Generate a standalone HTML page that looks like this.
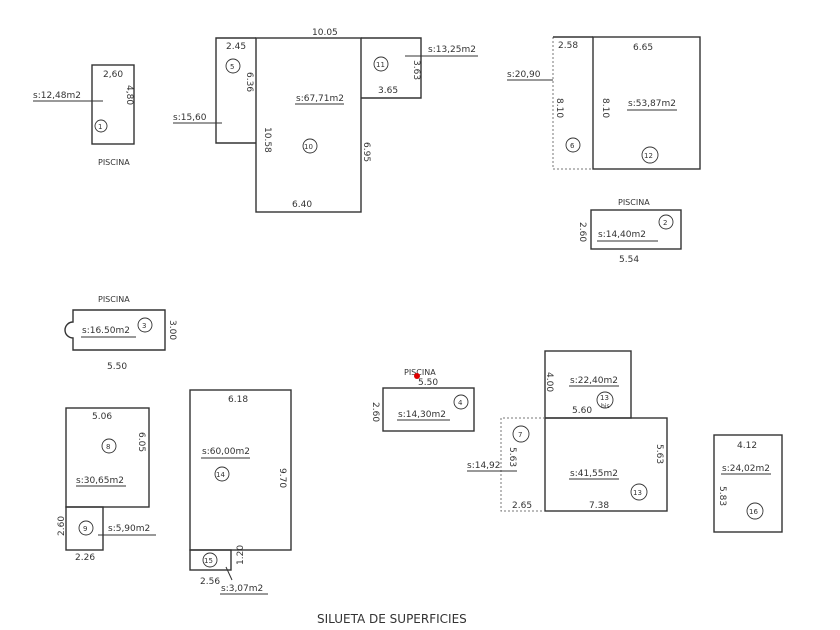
<!DOCTYPE html>
<html><head><meta charset="utf-8"><style>
html,body{margin:0;padding:0;background:#fff;}
svg{display:block;}
text{font-family:"DejaVu Sans","Liberation Sans",sans-serif;font-size:9px;fill:#333;}
.r{fill:none;stroke:#333;stroke-width:1.4;}
.d{fill:none;stroke:#777;stroke-width:1;stroke-dasharray:2 2;}
.l{stroke:#333;stroke-width:1;}
.c{fill:none;stroke:#333;stroke-width:0.9;}
</style></head><body>
<svg width="840" height="630" viewBox="0 0 840 630" xmlns="http://www.w3.org/2000/svg">
<!-- 1 -->
<rect class="r" x="92" y="65" width="42" height="79"/>
<text x="103" y="77">2,60</text>
<text transform="translate(127,85) rotate(90)">4,80</text>
<text x="33" y="98">s:12,48m2</text><line class="l" x1="33" y1="101" x2="103" y2="101"/>
<circle class="c" cx="101" cy="126" r="6"/><text x="98" y="129" style="font-size:7px">1</text>
<text x="98" y="165" style="font-size:8px">PISCINA</text>
<!-- 5 10 11 -->
<path class="r" d="M256,38 H216 V143 H256"/>
<rect class="r" x="256" y="38" width="105" height="174"/>
<path class="r" d="M361,38 H421 V98 H361"/>
<text x="312" y="35">10.05</text>
<text x="226" y="49">2.45</text>
<circle class="c" cx="233" cy="66" r="7"/><text x="230" y="69" style="font-size:7px">5</text>
<text transform="translate(247,72) rotate(90)">6.36</text>
<text x="173" y="120">s:15,60</text><line class="l" x1="173" y1="123" x2="222" y2="123"/>
<text x="296" y="101">s:67,71m2</text><line class="l" x1="295" y1="104" x2="344" y2="104"/>
<text transform="translate(265,127) rotate(90)">10.58</text>
<circle class="c" cx="310" cy="146" r="7"/><text x="304" y="149" style="font-size:7px">10</text>
<text transform="translate(364,142) rotate(90)">6.95</text>
<text x="292" y="207">6.40</text>
<circle class="c" cx="381" cy="64" r="7"/><text x="376" y="67" style="font-size:7px">11</text>
<text transform="translate(414,60) rotate(90)">3.63</text>
<text x="378" y="93">3.65</text>
<text x="428" y="52">s:13,25m2</text><line class="l" x1="405" y1="56" x2="478" y2="56"/>
<!-- 6 12 -->
<path class="d" d="M553,37 V169 H593"/>
<line class="r" x1="553" y1="37" x2="593" y2="37"/>
<rect class="r" x="593" y="37" width="107" height="132"/>
<text x="558" y="48">2.58</text>
<text x="633" y="50">6.65</text>
<text x="507" y="77">s:20,90</text><line class="l" x1="507" y1="80" x2="553" y2="80"/>
<text transform="translate(557,98) rotate(90)">8.10</text>
<text transform="translate(603,98) rotate(90)">8.10</text>
<text x="628" y="106">s:53,87m2</text><line class="l" x1="627" y1="110" x2="677" y2="110"/>
<circle class="c" cx="573" cy="145" r="7"/><text x="570" y="148" style="font-size:7px">6</text>
<circle class="c" cx="650" cy="155" r="8"/><text x="644" y="158" style="font-size:7px">12</text>
<!-- 2 -->
<text x="618" y="205" style="font-size:8px">PISCINA</text>
<rect class="r" x="591" y="210" width="90" height="39"/>
<text transform="translate(580,222) rotate(90)">2.60</text>
<text x="598" y="237">s:14,40m2</text><line class="l" x1="597" y1="241" x2="658" y2="241"/>
<circle class="c" cx="666" cy="222" r="7"/><text x="663" y="225" style="font-size:7px">2</text>
<text x="619" y="262">5.54</text>
<!-- 3 -->
<text x="98" y="302" style="font-size:8px">PISCINA</text>
<path class="r" d="M73,310 H165 V350 H73 V338 A8,8 0 0 1 73,322 Z"/>
<text x="82" y="333">s:16.50m2</text><line class="l" x1="81" y1="337" x2="136" y2="337"/>
<circle class="c" cx="145" cy="325" r="7"/><text x="142" y="328" style="font-size:7px">3</text>
<text transform="translate(170,320) rotate(90)">3.00</text>
<text x="107" y="369">5.50</text>
<!-- 8 9 -->
<rect class="r" x="66" y="408" width="83" height="99"/>
<rect class="r" x="66" y="507" width="37" height="43"/>
<text x="92" y="419">5.06</text>
<circle class="c" cx="109" cy="446" r="7"/><text x="106" y="449" style="font-size:7px">8</text>
<text transform="translate(139,432) rotate(90)">6.05</text>
<text x="76" y="483">s:30,65m2</text><line class="l" x1="76" y1="486" x2="126" y2="486"/>
<circle class="c" cx="86" cy="528" r="7"/><text x="83" y="531" style="font-size:7px">9</text>
<text transform="translate(64,536) rotate(-90)">2.60</text>
<text x="108" y="531">s:5,90m2</text><line class="l" x1="98" y1="535" x2="156" y2="535"/>
<text x="75" y="560">2.26</text>
<!-- 14 15 -->
<rect class="r" x="190" y="390" width="101" height="160"/>
<rect class="r" x="190" y="550" width="41" height="20"/>
<text x="228" y="402">6.18</text>
<text x="202" y="454">s:60,00m2</text><line class="l" x1="201" y1="458" x2="250" y2="458"/>
<circle class="c" cx="222" cy="474" r="7"/><text x="216" y="477" style="font-size:7px">14</text>
<text transform="translate(280,468) rotate(90)">9.70</text>
<circle class="c" cx="210" cy="560" r="7"/><text x="204" y="563" style="font-size:7px">15</text>
<text transform="translate(243,565) rotate(-90)">1.20</text>
<text x="200" y="584">2.56</text>
<line class="l" x1="226" y1="567" x2="232" y2="580"/>
<text x="221" y="591">s:3,07m2</text><line class="l" x1="220" y1="594" x2="268" y2="594"/>
<!-- 4 -->
<text x="404" y="375" style="font-size:8px">PISCINA</text>
<circle cx="417" cy="376" r="3" fill="#d00"/>
<text x="418" y="385">5.50</text>
<rect class="r" x="383" y="388" width="91" height="43"/>
<circle class="c" cx="461" cy="402" r="7"/><text x="458" y="405" style="font-size:7px">4</text>
<text x="398" y="417">s:14,30m2</text><line class="l" x1="397" y1="420" x2="450" y2="420"/>
<text transform="translate(373,402) rotate(90)">2.60</text>
<!-- 13bis 13 7 -->
<rect class="r" x="545" y="351" width="86" height="67"/>
<rect class="r" x="545" y="418" width="122" height="93"/>
<path class="d" d="M545,418 H501 V511 H545"/>
<text transform="translate(547,372) rotate(90)">4.00</text>
<text x="570" y="383">s:22,40m2</text><line class="l" x1="569" y1="386" x2="619" y2="386"/>
<circle class="c" cx="605" cy="400" r="8"/><text x="600" y="400" style="font-size:7px">13</text><text x="601" y="408" style="font-size:6px">bis</text>
<text x="572" y="413">5.60</text>
<circle class="c" cx="521" cy="434" r="8"/><text x="518" y="437" style="font-size:7px">7</text>
<text transform="translate(510,447) rotate(90)">5.63</text>
<text x="467" y="468">s:14,92</text><line class="l" x1="467" y1="471" x2="517" y2="471"/>
<text x="570" y="476">s:41,55m2</text><line class="l" x1="569" y1="479" x2="619" y2="479"/>
<circle class="c" cx="639" cy="492" r="8"/><text x="633" y="495" style="font-size:7px">13</text>
<text x="512" y="508">2.65</text>
<text x="589" y="508">7.38</text>
<text transform="translate(657,444) rotate(90)">5.63</text>
<!-- 16 -->
<rect class="r" x="714" y="435" width="68" height="97"/>
<text x="737" y="448">4.12</text>
<text x="722" y="471">s:24,02m2</text><line class="l" x1="721" y1="474" x2="771" y2="474"/>
<text transform="translate(720,486) rotate(90)">5.83</text>
<circle class="c" cx="755" cy="511" r="8"/><text x="749" y="514" style="font-size:7px">16</text>
<text x="317" y="623" style="font-size:12px">SILUETA DE SUPERFICIES</text>
</svg>
</body></html>
